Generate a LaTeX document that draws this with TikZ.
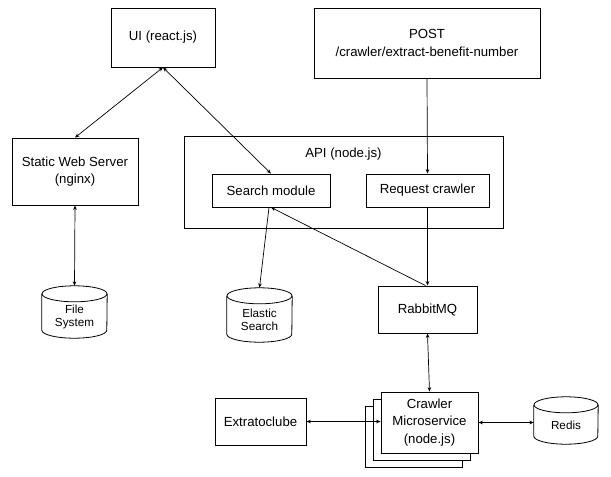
\documentclass[tikz,border=0pt]{standalone}
\usepackage{fontspec}
\setmainfont{Liberation Sans}
\usetikzlibrary{arrows.meta,calc}
\newcommand\drawdb[2]{%
  \draw[dbline] ($(#1.north)+(0,8)$) ellipse [x radius=#2pt, y radius=8pt];
  \draw[dbline] ($(#1.north west)+(0,8)$) -- ($(#1.south west)+(0,-8)$)
     arc[start angle=180, end angle=360, x radius=#2pt, y radius=8pt]
     -- ($(#1.north east)+(0,8)$);
}
\begin{document}
\begin{tikzpicture}[x=1pt,y=-1pt,
  box/.style={draw, line width=0.8pt, inner sep=0pt, align=center, fill=white,
    font=\fontsize{13.2}{17.5}\selectfont},
  dbbox/.style={inner sep=0pt},
  dbtext/.style={inner sep=0pt, align=center, font=\fontsize{11.7}{13.5}\selectfont},
  dbline/.style={line width=0.8pt},
  tip/.tip={Stealth[length=4.5pt,width=3.6pt]},
  both/.style={line width=0.7pt, tip-tip},
  one/.style={line width=0.7pt, -tip}]
\useasboundingbox (0,0) rectangle (611,477);
\fill[white] (0,0) rectangle (611,477);

% boxes
\node[box, minimum width=104pt, minimum height=59pt] (ui) at (163,37.5) {UI (react.js)};
\node[box, minimum width=226pt, minimum height=70pt] (post) at (427,43) {POST\\/crawler/extract-benefit-number};
\node[box, minimum width=126pt, minimum height=67pt] (static) at (75,171.5) {Static Web Server\\(nginx)};
\node[box, minimum width=319pt, minimum height=92pt] (api) at (343.5,182) {};
\node[inner sep=0pt, font=\fontsize{13.2}{17.5}\selectfont] (apilabel) at (343.5,154) {API (node.js)};
\node[box, minimum width=118pt, minimum height=33pt] (search) at (271,190.5) {Search module};
\node[box, minimum width=123pt, minimum height=33pt] (request) at (427.5,190.5) {Request crawler};
\node[box, minimum width=99pt, minimum height=47pt] (rabbit) at (427.5,309.5) {RabbitMQ};
\node[box, minimum width=91pt, minimum height=47pt] (extr) at (260.5,421.5) {Extratoclube};

% crawler stack
\node[box, minimum width=97pt, minimum height=61pt] (crawl3) at (413.5,436.5) {};
\node[box, minimum width=97pt, minimum height=61pt] (crawl2) at (421.5,429.5) {};
\node[box, minimum width=97pt, minimum height=61pt] (crawler) at (429.5,422.5) {Crawler\\Microservice\\(node.js)};

% cylinders
\node[dbbox, minimum width=65pt, minimum height=52pt] (fs) at (74.5,312) {};
\drawdb{fs}{32.5}
\node[dbtext] (fstext) at (74.5,317) {File\\System};
\node[dbbox, minimum width=65pt, minimum height=54pt] (es) at (259.5,315) {};
\drawdb{es}{32.5}
\node[dbtext] (estext) at (259.5,320) {Elastic\\Search};
\node[dbbox, minimum width=64pt, minimum height=47pt] (redis) at (566,420.5) {};
\drawdb{redis}{32}
\node[dbtext] (redistext) at (566,425.5) {Redis};

% connectors
\draw[both] (ui.south) -- (static.north);
\draw[both] (ui.south) -- (search.north);
\draw[one] (post.south) -- (request.north);
\draw[one] (request.south) -- (rabbit.north);
\draw[one] ([xshift=-2pt]rabbit.north) -- (search.south);
\draw[one] ([xshift=-2pt]search.south) -- (es.north);
\draw[both] (static.south) -- (fs.north);
\draw[both] (rabbit.south) -- (crawler.north);
\draw[both] (extr.east) -- (extr.east -| crawler.west);
\draw[both] (crawler.east) -- (crawler.east -| redis.west);
\end{tikzpicture}
\end{document}
